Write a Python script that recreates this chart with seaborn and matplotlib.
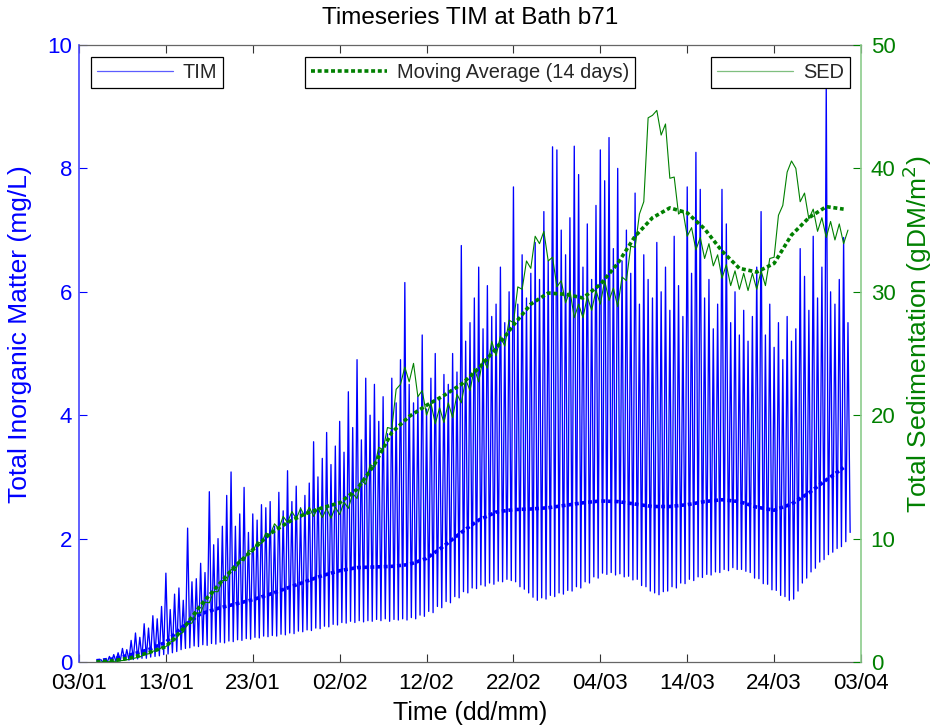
import numpy as np
import pandas as pd
import matplotlib
matplotlib.use("Agg")
import matplotlib.pyplot as plt
import matplotlib.dates as mdates
from matplotlib.lines import Line2D
import seaborn as sns

sns.set_theme(style="white")
plt.rcParams["font.family"] = ["Liberation Sans", "DejaVu Sans"]

# ---------------- data ----------------
START = "2010-01-03"           # first x tick 03/01
PEAK_T0 = 2.5                  # days after start of first TIM peak
STEP = 0.5                     # semi-diurnal sampling of peaks (days)

TIM_PEAKS = [
    0.04, 0.05, 0.09, 0.12, 0.15, 0.22, 0.2, 0.35, 0.47, 0.4,
    0.62, 0.55, 0.75, 0.7, 0.9, 1.44, 0.85, 1.1, 1.2, 1.0,
    2.17, 1.3, 1.35, 1.6, 1.45, 2.76, 1.9, 2.0, 2.2, 2.7,
    3.08, 2.2, 2.4, 2.83, 2.1, 2.4, 2.3, 2.55, 2.5, 2.6,
    2.2, 2.75, 2.45, 3.1, 2.6, 2.85, 2.5, 2.7, 2.9, 3.57,
    3.0, 3.3, 3.72, 3.2, 3.5, 3.9, 3.4, 4.38, 3.8, 4.9,
    3.6, 4.6, 4.0, 4.5, 3.9, 4.3, 3.7, 4.6, 4.2, 4.9,
    6.15, 4.5, 4.2, 4.3, 5.3, 4.1, 4.6, 5.0, 4.3, 4.66,
    4.5, 5.0, 4.7, 6.75, 5.2, 5.5, 5.9, 6.4, 5.4, 6.1,
    5.6, 5.8, 6.4, 5.5, 6.0, 7.7, 5.8, 6.6, 5.9, 6.3,
    6.8, 6.2, 7.3, 6.5, 8.35, 8.3, 7.0, 6.6, 7.2, 8.36,
    7.9, 6.4, 7.1, 6.2, 7.4, 8.3, 7.8, 8.5, 6.7, 8.0,
    6.5, 7.0, 6.3, 7.6, 5.8, 6.6, 6.2, 5.9, 6.8, 6.0,
    6.4, 5.7, 6.9, 6.1, 5.6, 7.7, 6.3, 8.26, 7.66, 5.9,
    6.2, 5.4, 5.8, 7.66, 7.1, 5.5, 6.0, 5.3, 5.7, 5.2,
    5.6, 6.4, 7.3, 5.3, 5.8, 5.1, 5.5, 4.9, 5.6, 5.2,
    5.4, 6.7, 6.25, 5.7, 6.9, 5.9, 6.4, 9.35, 6.0, 5.8,
    6.2, 6.88, 5.5,
]
TIM_TROUGHS = [
    0.0, 0.0, 0.01, 0.01, 0.02, 0.03, 0.03, 0.04, 0.05, 0.06,
    0.06, 0.08, 0.09, 0.1, 0.12, 0.13, 0.15, 0.17, 0.2, 0.22,
    0.23, 0.26, 0.25, 0.28, 0.27, 0.3, 0.29, 0.32, 0.31, 0.34,
    0.33, 0.36, 0.35, 0.38, 0.37, 0.4, 0.39, 0.42, 0.41, 0.43,
    0.42, 0.45, 0.44, 0.47, 0.46, 0.5, 0.49, 0.52, 0.51, 0.55,
    0.54, 0.58, 0.57, 0.61, 0.6, 0.64, 0.63, 0.66, 0.64, 0.67,
    0.65, 0.67, 0.66, 0.69, 0.67, 0.7, 0.66, 0.69, 0.68, 0.7,
    0.68, 0.72, 0.7, 0.76, 0.74, 0.82, 0.8, 0.9, 0.88, 0.98,
    0.96, 1.06, 1.04, 1.14, 1.12, 1.2, 1.19, 1.25, 1.23, 1.28,
    1.26, 1.31, 1.3, 1.34, 1.32, 1.3, 1.22, 1.18, 1.12, 1.05,
    1.0, 1.04, 1.02, 1.08, 1.06, 1.12, 1.1, 1.16, 1.15, 1.22,
    1.2, 1.3, 1.28, 1.38, 1.36, 1.44, 1.42, 1.45, 1.41, 1.43,
    1.38, 1.39, 1.33, 1.34, 1.24, 1.22, 1.15, 1.12, 1.09, 1.14,
    1.15, 1.22, 1.2, 1.28, 1.27, 1.34, 1.32, 1.38, 1.37, 1.42,
    1.41, 1.46, 1.45, 1.5, 1.48, 1.53, 1.5, 1.5, 1.47, 1.45,
    1.36, 1.35, 1.27, 1.26, 1.17, 1.16, 1.08, 1.06, 1.0, 1.02,
    1.15, 1.28, 1.36, 1.46, 1.52, 1.62, 1.66, 1.74, 1.78, 1.84,
    1.87, 1.95, 2.1,
]
SED = [
    0.0, 0.01, 0.03, 0.05, 0.09, 0.12, 0.18, 0.24, 0.33, 0.4,
    0.62, 0.66, 0.88, 0.9, 1.18, 1.24, 1.62, 1.72, 2.2, 2.42,
    3.1, 3.15, 3.95, 4.0, 4.85, 4.8, 5.7, 5.7, 6.6, 6.6,
    7.5, 7.4, 8.3, 8.2, 9.05, 8.9, 9.75, 9.6, 10.45, 10.3,
    11.2, 10.8, 11.8, 11.3, 12.2, 11.6, 12.45, 11.8, 12.55, 11.8,
    12.5, 11.7, 12.45, 11.65, 12.55, 11.95, 12.95, 12.45, 13.65, 13.25,
    14.7, 14.4, 16.0, 15.8, 17.4, 17.2, 19.0, 18.9, 22.1, 22.5,
    23.9, 22.7, 24.2, 21.5, 22.0, 20.0, 21.0, 19.3, 20.6, 19.4,
    21.0, 19.8, 21.7, 21.0, 22.9, 22.0, 23.8, 22.7, 24.6, 23.8,
    26.0, 24.8, 26.4, 25.6, 27.7, 27.5, 30.4, 30.2, 32.5, 31.9,
    34.5, 33.9, 34.9, 32.5, 32.8, 30.4, 30.9, 29.1, 30.1, 27.9,
    29.0, 27.9, 29.6, 28.5, 30.1, 29.0, 30.9, 29.3, 30.3, 28.8,
    31.2, 30.9, 33.7, 33.6, 36.3, 37.3, 44.1, 44.3, 44.7, 42.7,
    43.6, 39.2, 39.3, 36.3, 36.6, 34.5, 35.2, 33.4, 34.4, 32.7,
    33.9, 32.1, 33.0, 31.1, 32.2, 30.5, 31.7, 30.2, 31.5, 30.1,
    31.5, 30.2, 31.7, 30.5, 32.7, 32.8, 36.2, 37.0, 39.7, 40.6,
    40.0, 37.3, 38.0, 35.9, 36.7, 34.9, 36.0, 34.4, 35.7, 34.2,
    35.5, 33.9, 35.0,
]
MA_T0, MA_STEP = 2, 2          # moving averages sampled every 2 days
TIM_MA = [
    0.02, 0.05, 0.12, 0.2, 0.32, 0.58, 0.78, 0.87, 0.94, 1.01,
    1.1, 1.2, 1.3, 1.4, 1.48, 1.53, 1.54, 1.55, 1.58, 1.68,
    1.88, 2.1, 2.3, 2.43, 2.47, 2.48, 2.5, 2.54, 2.58, 2.61,
    2.6, 2.56, 2.52, 2.52, 2.55, 2.6, 2.63, 2.6, 2.51, 2.46,
    2.56, 2.74, 2.95, 3.15,
]
SED_MA = [
    0.0, 0.1, 0.35, 0.75, 1.25, 2.7, 4.6, 6.2, 7.8, 9.1,
    10.4, 11.3, 12.0, 12.5, 12.9, 14.0, 16.0, 18.6, 19.9, 20.8,
    21.6, 22.5, 23.8, 25.4, 27.3, 29.0, 29.9, 29.8, 29.5, 30.6,
    32.3, 34.5, 36.0, 36.8, 36.4, 35.1, 33.3, 31.9, 31.6, 32.3,
    34.6, 36.0, 36.9, 36.7,
]
XTICK_DAYS = [0, 10, 20, 30, 40, 50, 60, 70, 80, 90]
TIM_TICKS = [0, 2, 4, 6, 8, 10]
SED_TICKS = [0, 10, 20, 30, 40, 50]

# ---------------- build tables ----------------
start = pd.Timestamp(START)
n = min(len(TIM_PEAKS), len(TIM_TROUGHS))
tp = PEAK_T0 + STEP * np.arange(n)
t_all = np.empty(2 * n)
v_all = np.empty(2 * n)
t_all[0::2] = tp
t_all[1::2] = tp + STEP / 2
v_all[0::2] = TIM_PEAKS[:n]
v_all[1::2] = TIM_TROUGHS[:n]
df_tim = pd.DataFrame({"time": start + pd.to_timedelta(t_all, unit="D"), "TIM": v_all})

df_sed = pd.DataFrame({
    "time": start + pd.to_timedelta(PEAK_T0 + STEP * np.arange(len(SED)), unit="D"),
    "SED": SED})
df_ma = pd.DataFrame({
    "time": start + pd.to_timedelta(MA_T0 + MA_STEP * np.arange(len(TIM_MA)), unit="D"),
    "TIM_MA": TIM_MA, "SED_MA": SED_MA})

BLUE = "#0000ff"
GREEN = "#008000"
DOT = (0, (1.1, 0.75))

# ---------------- figure ----------------
fig = plt.figure(figsize=(9.39, 7.28), dpi=100)
ax = fig.add_axes([79 / 939, 66 / 728, 782 / 939, 617 / 728])

sns.lineplot(data=df_tim, x="time", y="TIM", ax=ax, color=BLUE, lw=0.95,
             estimator=None, sort=False, legend=False)
sns.lineplot(data=df_ma, x="time", y="TIM_MA", ax=ax, color=BLUE, lw=2.6,
             linestyle=DOT, estimator=None, legend=False)

ax2 = ax.twinx()
sns.lineplot(data=df_sed, x="time", y="SED", ax=ax2, color=GREEN, lw=0.8,
             estimator=None, sort=False, legend=False)
sns.lineplot(data=df_ma, x="time", y="SED_MA", ax=ax2, color=GREEN, lw=2.6,
             linestyle=DOT, estimator=None, legend=False)

xt = [start + pd.Timedelta(days=d) for d in XTICK_DAYS]
ax.set_xlim(xt[0], xt[-1])
ax.set_xticks(xt)
ax.xaxis.set_major_formatter(mdates.DateFormatter("%d/%m"))
ax.set_ylim(0, 10)
ax.set_yticks(TIM_TICKS)
ax2.set_ylim(0, 50)
ax2.set_yticks(SED_TICKS)

FS_T = 16
ax.tick_params(axis="x", direction="in", length=6, width=0.8, top=True,
               bottom=True, labelsize=FS_T, colors="#333333", labelcolor="black", pad=8)
ax.tick_params(axis="y", direction="in", length=6, width=0.8, left=True,
               right=False, labelsize=FS_T, colors=BLUE, pad=5)
ax2.tick_params(axis="y", direction="in", length=6, width=0.8, right=True,
                labelsize=FS_T, colors=GREEN, pad=7)

for s in ("top", "bottom"):
    ax.spines[s].set_color("#666666")
    ax.spines[s].set_linewidth(0.9)
ax.spines["left"].set_color("#4d4dff")
ax.spines["right"].set_visible(False)
for s in ("left", "top", "bottom"):
    ax2.spines[s].set_visible(False)
ax2.spines["right"].set_color("#8ccc8c")
ax2.spines["right"].set_linewidth(1.2)
ax.grid(False)
ax2.grid(False)

FS_L = 19
LABEL_Y = (662 - 334) / 617
ax.set_xlabel("Time (dd/mm)", fontsize=18, color="black")
ax.xaxis.set_label_coords(0.5, -51 / 617)
ax.xaxis.label.set_va("center")
ax.set_ylabel("Total Inorganic Matter (mg/L)", fontsize=FS_L, color=BLUE)
ax.yaxis.set_label_coords(-59 / 782, LABEL_Y)
ax.yaxis.label.set_va("center")
ax2.set_ylabel("Total Sedimentation (gDM/m$^2$)", fontsize=FS_L, color=GREEN)
ax2.yaxis.set_label_coords(1 + 56 / 782, LABEL_Y)
ax2.yaxis.label.set_va("center")
ax2.yaxis.label.set_rotation(90)

fig.text(ax.get_position().x0 + ax.get_position().width / 2, 1 - 18 / 728,
         "Timeseries TIM at Bath b71", ha="center", va="center",
         fontsize=17.5, color="black")

# ---------------- legends ----------------
leg_kw = dict(fontsize=14.4, frameon=True, fancybox=False, framealpha=1,
              edgecolor="black", borderpad=0.3, borderaxespad=0,
              handlelength=3.8, handletextpad=0.5)
h_tim = [Line2D([], [], color="#5c5cff", lw=0.9)]
h_ma = [Line2D([], [], color=GREEN, lw=2.6, linestyle=DOT)]
h_sed = [Line2D([], [], color="#7fbf7f", lw=0.9)]
top = (662 - 57) / 617
l1 = ax2.legend(h_tim, ["TIM"], loc="upper left", bbox_to_anchor=(11.5 / 782, top), **leg_kw)
ax2.add_artist(l1)
l2 = ax2.legend(h_ma, ["Moving Average (14 days)"], loc="upper center",
                bbox_to_anchor=(0.5004, top), **leg_kw)
ax2.add_artist(l2)
l3 = ax2.legend(h_sed, ["SED"], loc="upper right", bbox_to_anchor=(771 / 782, top), **leg_kw)
for lg in (l1, l2, l3):
    lg.get_frame().set_linewidth(0.9)

fig.savefig("out.png", dpi=100)
